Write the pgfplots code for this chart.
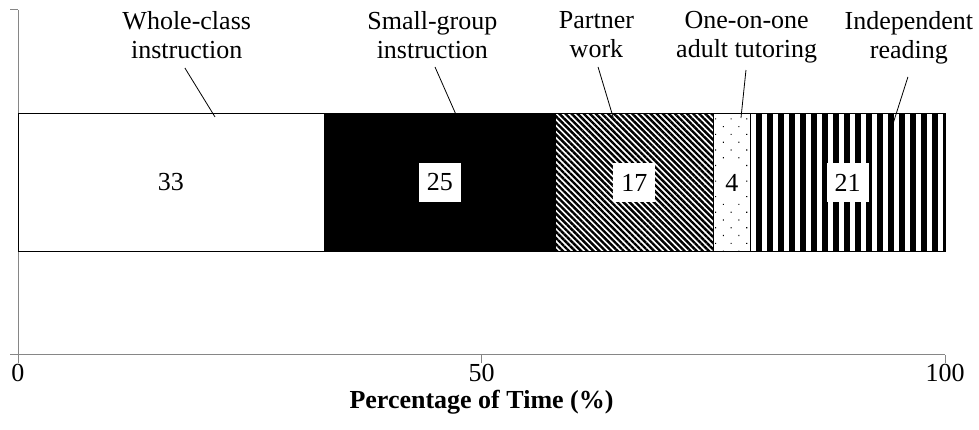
\documentclass[border=0pt]{standalone}
\usepackage{pgfplots}
\pgfplotsset{compat=1.18}
\usepackage{fontspec}
\setmainfont{Liberation Serif}
\usetikzlibrary{patterns.meta}
\definecolor{axisgray}{RGB}{134,134,134}
\newcommand{\chartfont}{\fontsize{26}{29}\selectfont}
\begin{document}
\begin{tikzpicture}
\pgfplotsset{
  base/.style={
    width=927pt, height=345pt, scale only axis,
    xmin=0, xmax=100, ymin=0.5, ymax=1.5,
    enlargelimits=false, clip=false,
  }
}
\begin{axis}[
  base,
  xbar stacked,
  bar width=0.4,
  axis x line*=bottom, axis y line*=left,
  axis line style={axisgray, line width=1pt},
  xtick={0,50,100}, ytick={0.5,1.5}, yticklabels={},
  tick align=outside, major tick length=8pt,
  tick style={axisgray, line width=1pt},
  /pgf/number format/assume math mode=true,
  tick label style={font=\chartfont, text=black},
  xticklabel style={yshift=2pt},
  xlabel={\textbf{Percentage of Time (\%)}},
  xlabel style={font=\chartfont, text=black, yshift=-1pt},
]
\addplot[fill=white, draw=black, line width=0.8pt] coordinates {(33,1)};
\addplot[fill=black, draw=black, line width=0.8pt] coordinates {(25,1)};
\addplot[pattern={Lines[angle=-45,distance=4.3pt,line width=2.4pt]}, pattern color=black, draw=black, line width=0.8pt] coordinates {(17,1)};
\addplot[pattern={Dots[distance=11pt,angle=45,radius=0.8pt]}, pattern color=black, draw=black, line width=0.8pt] coordinates {(4,1)};
\addplot[pattern={Lines[angle=90,distance=11pt,line width=6pt]}, pattern color=black, draw=black, line width=0.8pt] coordinates {(21,1)};
\end{axis}
\begin{axis}[base, hide axis]
\addplot[only marks, mark=none, point meta=explicit symbolic, nodes near coords,
  every node near coord/.append style={fill=white, anchor=center, inner xsep=8pt, inner ysep=0pt, minimum height=39pt, font=\chartfont, text=black}]
  coordinates {(16.5,1) [33] (45.5,1) [25] (66.5,1) [17] (89.5,1) [21]};
\addplot[only marks, mark=none, point meta=explicit symbolic, nodes near coords,
  every node near coord/.append style={fill=white, anchor=center, inner xsep=3pt, inner ysep=0pt, minimum height=39pt, font=\chartfont, text=black}]
  coordinates {(77,1) [4]};
\begin{scope}[every node/.style={anchor=north, align=center, inner sep=0pt, font=\chartfont, text=black}]
\node at (axis cs:18.2,1.497) {Whole-class\\instruction};
\node at (axis cs:44.7,1.497) {Small-group\\instruction};
\node at (axis cs:62.4,1.497) {Partner\\work};
\node at (axis cs:78.6,1.497) {One-on-one\\adult tutoring};
\node at (axis cs:96.1,1.497) {Independent\\reading};
\end{scope}
\draw[black, line width=0.8pt] (axis cs:18.0,1.332) -- (axis cs:21.25,1.190);
\draw[black, line width=0.8pt] (axis cs:44.98,1.335) -- (axis cs:47.36,1.190);
\draw[black, line width=0.8pt] (axis cs:62.57,1.335) -- (axis cs:64.19,1.190);
\draw[black, line width=0.8pt] (axis cs:78.53,1.326) -- (axis cs:77.99,1.187);
\draw[black, line width=0.8pt] (axis cs:96.0,1.306) -- (axis cs:94.28,1.161);
\end{axis}
\pgfresetboundingbox
\useasboundingbox (-18pt,-75pt) rectangle (961pt,355pt);
\end{tikzpicture}
\end{document}
